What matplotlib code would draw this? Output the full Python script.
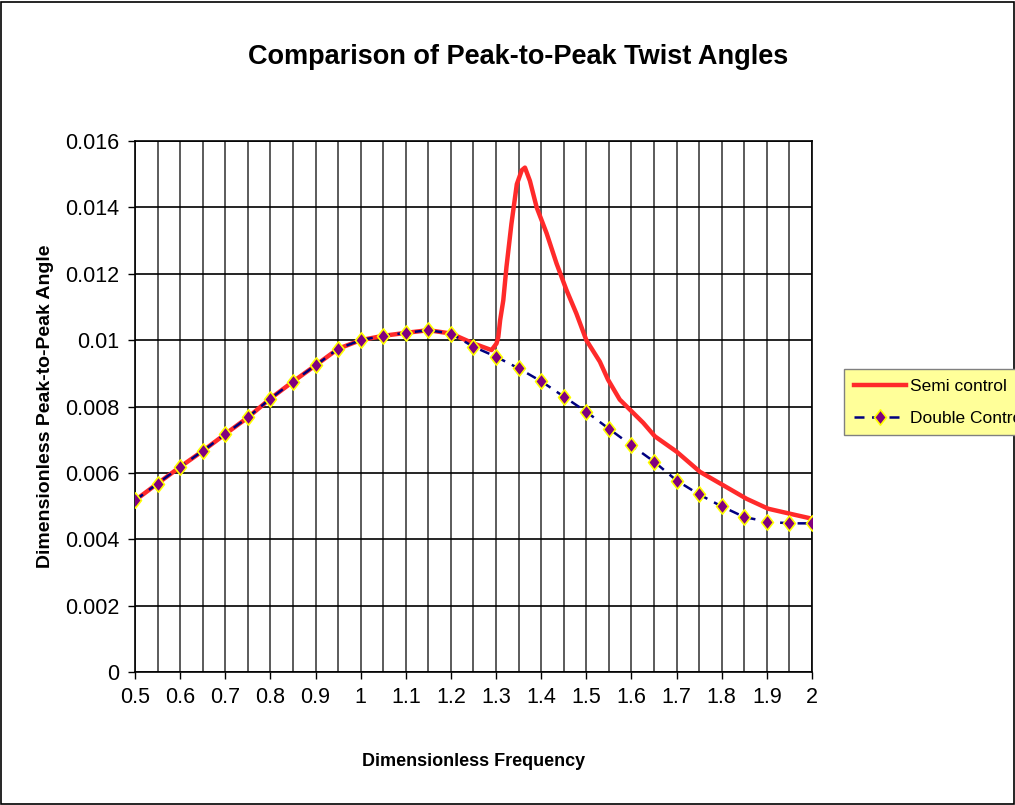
import numpy as np
import matplotlib.pyplot as plt
from matplotlib.path import Path
from matplotlib.patches import Rectangle

plt.rcParams['font.family'] = ['Liberation Sans', 'DejaVu Sans']

# Double control: one point every 0.05
double_x = [0.5, 0.55, 0.6, 0.65, 0.7, 0.75, 0.8, 0.85, 0.9, 0.95, 1.0,
            1.05, 1.1, 1.15, 1.2, 1.25, 1.3, 1.35, 1.4, 1.45, 1.5,
            1.55, 1.6, 1.65, 1.7, 1.75, 1.8, 1.85, 1.9, 1.95, 2.0]
double_y = [0.00517, 0.00568, 0.00618, 0.00666, 0.00717, 0.00767, 0.00824,
            0.00875, 0.00924, 0.00974, 0.0100, 0.01013, 0.01022, 0.0103,
            0.0102, 0.0098, 0.0095, 0.00915, 0.00876, 0.0083, 0.00784,
            0.00733, 0.00683, 0.00634, 0.00577, 0.00535, 0.00499, 0.00467,
            0.00453, 0.00448, 0.00448]

# Semi control (smooth curve with a resonance peak near 1.36)
semi_x = [0.5, 0.55, 0.6, 0.65, 0.7, 0.75, 0.8, 0.85, 0.9, 0.95, 1.0,
          1.05, 1.1, 1.15, 1.2, 1.25, 1.29, 1.301, 1.305, 1.309, 1.316,
          1.323, 1.334, 1.346, 1.357, 1.364, 1.375, 1.39, 1.412, 1.434,
          1.456, 1.478, 1.5, 1.53, 1.548, 1.574, 1.6, 1.626, 1.652, 1.7,
          1.752, 1.803, 1.855, 1.903, 1.951, 2.0]
semi_y = [0.00517, 0.00568, 0.00618, 0.00666, 0.00717, 0.00767, 0.00824,
          0.00875, 0.00924, 0.00974, 0.0100, 0.01013, 0.01022, 0.0103,
          0.0102, 0.0099, 0.0097, 0.0099, 0.0101, 0.0106, 0.0112,
          0.0122, 0.0135, 0.0147, 0.01512, 0.0152, 0.0148, 0.0140, 0.01322,
          0.01231, 0.01151, 0.0108, 0.0100, 0.00935, 0.00881, 0.00821,
          0.00786, 0.00751, 0.0071, 0.00664, 0.00603, 0.00563, 0.00522,
          0.00492, 0.00477, 0.00462]

y_ticks = [0, 0.002, 0.004, 0.006, 0.008, 0.01, 0.012, 0.014, 0.016]
y_labels = ['0', '0.002', '0.004', '0.006', '0.008', '0.01', '0.012', '0.014', '0.016']
x_ticks = [0.5, 0.6, 0.7, 0.8, 0.9, 1.0, 1.1, 1.2, 1.3, 1.4, 1.5, 1.6, 1.7, 1.8, 1.9, 2.0]
x_labels = ['0.5', '0.6', '0.7', '0.8', '0.9', '1', '1.1', '1.2', '1.3', '1.4',
            '1.5', '1.6', '1.7', '1.8', '1.9', '2']

fig = plt.figure(figsize=(10.15, 8.05), dpi=100)
ax = fig.add_axes([0.133, 0.1652, 0.667, 0.6596])

# vertical grid every 0.05, horizontal at y ticks
for xv in double_x:
    ax.axvline(xv, color='#404040', lw=1.2, zorder=1)
for yv in y_ticks:
    ax.axhline(yv, color='black', lw=1.2, zorder=1)

ax.plot(semi_x, semi_y, color='#ff2a2a', lw=3.2, label='Semi control', zorder=3)

diamond = Path([(0, 1), (0.78, 0), (0, -1), (-0.78, 0), (0, 1)],
               [Path.MOVETO, Path.LINETO, Path.LINETO, Path.LINETO, Path.CLOSEPOLY])
ax.plot(double_x, double_y, color='#000080', lw=1.8, linestyle=(0, (4, 3)),
        marker=diamond, markersize=11, markerfacecolor='#800080',
        markeredgecolor='#ffff00', markeredgewidth=1.2,
        label='Double Control', zorder=4)

ax.set_xlim(0.5, 2.0)
ax.set_ylim(0, 0.016)
ax.set_xticks(x_ticks)
ax.set_xticklabels(x_labels, fontsize=15.5)
ax.set_yticks(y_ticks)
ax.set_yticklabels(y_labels, fontsize=15.5)
ax.tick_params(axis='both', direction='out', length=5, width=1, color='black', pad=6)
for s in ax.spines.values():
    s.set_color('black')
    s.set_linewidth(1.2)

ax.set_xlabel('Dimensionless Frequency', fontsize=13, fontweight='bold', labelpad=32)
ax.set_ylabel('Dimensionless Peak-to-Peak Angle', fontsize=14, fontweight='bold', labelpad=8)
fig.text(0.51, 0.929, 'Comparison of Peak-to-Peak Twist Angles', fontsize=19.5,
         fontweight='bold', ha='center', va='center')

leg = fig.legend(loc='upper left', bbox_to_anchor=(0.823, 0.552), fontsize=12.5,
                 frameon=True, fancybox=False, handlelength=3.0,
                 borderpad=0.55, labelspacing=0.95, handletextpad=0.25)
leg.get_frame().set_facecolor('#ffff99')
leg.get_frame().set_edgecolor('#808080')
leg.get_frame().set_alpha(1)

fig.add_artist(Rectangle((0.001, 0.001), 0.998, 0.997, transform=fig.transFigure,
                         fill=False, ec='black', lw=1.2))

fig.savefig('out.png', dpi=100)
